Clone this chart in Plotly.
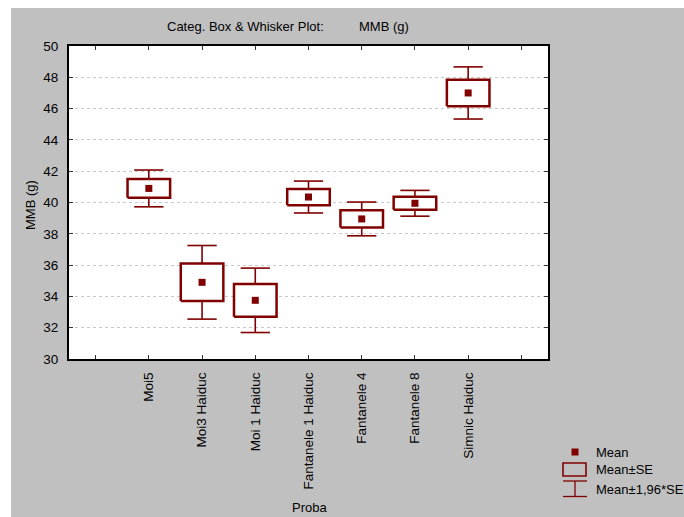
import plotly.graph_objects as go

# ---- data ----
categories = ["Moi5", "Moi3 Haiduc", "Moi 1 Haiduc", "Fantanele 1 Haiduc",
              "Fantanele 4", "Fantanele 8", "Simnic Haiduc"]
means = [40.9, 34.9, 33.75, 40.35, 38.95, 39.95, 47.0]
se = [0.60, 1.20, 1.05, 0.52, 0.55, 0.42, 0.85]
whisker_factor = 1.96
y_ticks = [30, 32, 34, 36, 38, 40, 42, 44, 46, 48, 50]

# ---- style ----
RED = "#800000"
GRAY = "#C0C0C0"
FONT = "Liberation Sans, Arial, sans-serif"
BOX_HALF = 0.40
CAP_HALF = 0.275

# page geometry (px, in screenshot coordinates); figure sits 8px from top/left
OFF = 8
W, H = 684 - OFF, 517 - OFF
L, R, T, B = 69, 548, 46, 359          # plot area in page coordinates
PW, PH = R - L, B - T


def px_x(px):
    return (px - L) / PW


def px_y(py):
    return (B - py) / PH


xpos = list(range(1, len(categories) + 1))

# whiskers
wx, wy = [], []
for x, m, s in zip(xpos, means, se):
    hi, lo = m + whisker_factor * s, m - whisker_factor * s
    wx += [x, x, None, x - CAP_HALF, x + CAP_HALF, None,
           x, x, None, x - CAP_HALF, x + CAP_HALF, None]
    wy += [m + s, hi, None, hi, hi, None,
           m - s, lo, None, lo, lo, None]

# boxes (mean +/- SE)
bx, by = [], []
for x, m, s in zip(xpos, means, se):
    bx += [x - BOX_HALF, x + BOX_HALF, x + BOX_HALF, x - BOX_HALF, x - BOX_HALF, None]
    by += [m - s, m - s, m + s, m + s, m - s, None]

fig = go.Figure()
fig.add_trace(go.Scatter(x=wx, y=wy, mode="lines", line=dict(color=RED, width=1.6),
                         name="Mean±1,96*SE", showlegend=False, hoverinfo="skip"))
fig.add_trace(go.Scatter(x=bx, y=by, mode="lines", fill="toself", fillcolor="white",
                         line=dict(color=RED, width=2.5), name="Mean±SE",
                         showlegend=False, hoverinfo="skip"))
fig.add_trace(go.Scatter(x=xpos, y=means, mode="markers",
                         marker=dict(symbol="square", size=7, color=RED),
                         name="Mean", showlegend=False))

shapes = [
    # thin white strip on the left of the figure
    dict(type="rect", xref="paper", yref="paper", layer="below",
         x0=px_x(OFF), x1=px_x(11), y0=px_y(H + OFF), y1=px_y(OFF),
         fillcolor="white", line=dict(width=0)),
    # legend symbols
    dict(type="rect", xref="paper", yref="paper",
         x0=px_x(571.5), x1=px_x(578.5), y0=px_y(455.5), y1=px_y(448.5),
         fillcolor=RED, line=dict(width=0)),
    dict(type="rect", xref="paper", yref="paper",
         x0=px_x(563), x1=px_x(586), y0=px_y(476), y1=px_y(463),
         fillcolor="rgba(0,0,0,0)", line=dict(color=RED, width=1.6)),
    dict(type="line", xref="paper", yref="paper",
         x0=px_x(563), x1=px_x(587), y0=px_y(481), y1=px_y(481),
         line=dict(color=RED, width=1.3)),
    dict(type="line", xref="paper", yref="paper",
         x0=px_x(563), x1=px_x(587), y0=px_y(496.5), y1=px_y(496.5),
         line=dict(color=RED, width=1.3)),
    dict(type="line", xref="paper", yref="paper",
         x0=px_x(575), x1=px_x(575), y0=px_y(481), y1=px_y(496.5),
         line=dict(color=RED, width=1.3)),
]

txt = dict(family=FONT, size=13, color="black")
annotations = [
    dict(text="Categ. Box & Whisker Plot:", x=px_x(165), y=px_y(27), xref="paper", yref="paper",
         xanchor="left", yanchor="middle", showarrow=False, font=txt),
    dict(text="MMB (g)", x=px_x(357), y=px_y(27), xref="paper", yref="paper",
         xanchor="left", yanchor="middle", showarrow=False, font=txt),
    dict(text="MMB (g)", x=px_x(30), y=px_y(205), xref="paper", yref="paper",
         xanchor="center", yanchor="middle", textangle=-90, showarrow=False, font=txt),
    dict(text="Proba", x=px_x(309), y=px_y(507), xref="paper", yref="paper",
         xanchor="center", yanchor="middle", showarrow=False, font=txt),
    dict(text="Mean", x=px_x(594), y=px_y(452), xref="paper", yref="paper",
         xanchor="left", yanchor="middle", showarrow=False, font=txt),
    dict(text="Mean±SE", x=px_x(594), y=px_y(469.5), xref="paper", yref="paper",
         xanchor="left", yanchor="middle", showarrow=False, font=txt),
    dict(text="Mean±1,96*SE", x=px_x(594), y=px_y(489), xref="paper", yref="paper",
         xanchor="left", yanchor="middle", showarrow=False, font=txt),
]

fig.update_layout(
    width=W, height=H,
    margin=dict(l=L - OFF, r=W + OFF - R, t=T - OFF, b=H + OFF - B, pad=0),
    paper_bgcolor=GRAY, plot_bgcolor="white",
    font=dict(family=FONT, size=13, color="black"),
    showlegend=False,
    shapes=shapes, annotations=annotations,
    xaxis=dict(range=[-0.5, 8.5], tickmode="array",
               tickvals=[0] + xpos + [len(categories) + 1],
               ticktext=[""] + categories + [""],
               tickangle=-90, ticks="inside", ticklen=4, tickcolor="#333",
               showline=True, linecolor="black", linewidth=2, mirror="ticks",
               showgrid=False, zeroline=False, ticklabelstandoff=6,
               tickfont=dict(family=FONT, size=13.5)),
    yaxis=dict(range=[30, 50], tickmode="array", tickvals=y_ticks,
               ticks="inside", ticklen=4, tickcolor="#333",
               showline=True, linecolor="black", linewidth=2, mirror="ticks",
               showgrid=True, gridcolor="#C8C8C8", griddash="dot", gridwidth=1,
               zeroline=False, ticklabelstandoff=6,
               tickfont=dict(family=FONT, size=13.5)),
)

fig.write_html(
    "out.html",
    post_script="document.body.style.margin='8px 0 0 8px';"
                "document.documentElement.style.overflow='hidden';",
)
